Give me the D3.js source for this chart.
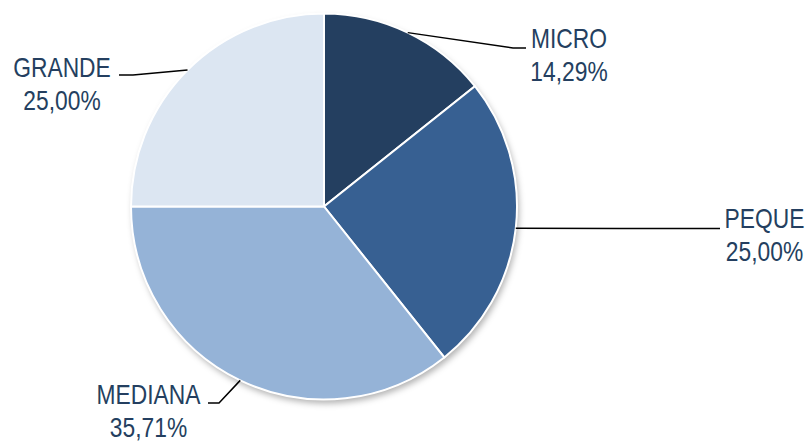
<!DOCTYPE html>
<html>
<head>
<meta charset="utf-8">
<script src="https://cdn.jsdelivr.net/npm/d3@7"></script>
<style>
  body { margin: 0; background: #fff; }
  svg { display: block; }
</style>
</head>
<body>
<div id="chart"></div>
<script>
const categories = ['MICRO', 'PEQUE', 'MEDIANA', 'GRANDE']
const values = [14.29, 25.00, 35.71, 25.00]
const labels = ['14,29%', '25,00%', '35,71%', '25,00%']
const colors = ['#243F60', '#376092', '#95B3D7', '#DCE6F2']

const width = 811
const height = 444
const center = { x: 324, y: 206.5 }
const radius = 193

// label layout: text centre / first baseline, elbow and end of leader line
const labelLayout = {
  MICRO: { tx: 569, ty: 48, elbow: [513, 48], end: [526, 48] },
  PEQUE: { tx: 764.5, ty: 228, elbow: [620, 228.5], end: [720, 228.5] },
  MEDIANA: { tx: 148.5, ty: 404, elbow: [219, 403], end: [208, 403] },
  GRANDE: { tx: 62, ty: 77, elbow: [133, 75], end: [119, 75] }
}

const data = categories.map((c, i) => ({ name: c, value: values[i], label: labels[i], color: colors[i] }))

const svg = d3.select('#chart').append('svg')
  .attr('width', width)
  .attr('height', height)

const defs = svg.append('defs')
const filter = defs.append('filter')
  .attr('id', 'shadow')
  .attr('x', '-10%').attr('y', '-10%')
  .attr('width', '120%').attr('height', '120%')
filter.append('feDropShadow')
  .attr('dx', 2).attr('dy', 4)
  .attr('stdDeviation', 3)
  .attr('flood-color', '#000')
  .attr('flood-opacity', 0.3)

const bounds = svg.append('g')
  .attr('transform', `translate(${center.x}, ${center.y})`)

const pie = d3.pie()
  .sort(null)
  .value(d => d.value)
const arcs = pie(data)

const arc = d3.arc()
  .innerRadius(0)
  .outerRadius(radius)

bounds.append('circle')
  .attr('r', radius)
  .attr('fill', '#fff')
  .attr('filter', 'url(#shadow)')

bounds.selectAll('path.slice')
  .data(arcs)
  .join('path')
  .attr('class', 'slice')
  .attr('d', arc)
  .attr('fill', d => d.data.color)
  .style('stroke', '#fff')
  .style('stroke-width', 2)

// leader lines
const line = d3.line()
svg.selectAll('path.leader')
  .data(arcs)
  .join('path')
  .attr('class', 'leader')
  .attr('d', d => {
    const a = (d.startAngle + d.endAngle) / 2
    const start = [center.x + radius * Math.sin(a), center.y - radius * Math.cos(a)]
    const l = labelLayout[d.data.name]
    return line([start, l.elbow, l.end])
  })
  .attr('fill', 'none')
  .style('stroke', '#000')
  .style('stroke-width', 1.5)

// labels (condensed like Arial Narrow)
const text = svg.selectAll('text.label')
  .data(arcs)
  .join('text')
  .attr('class', 'label')
  .attr('transform', d => `translate(${labelLayout[d.data.name].tx}, ${labelLayout[d.data.name].ty}) scale(0.8, 1)`)
  .attr('text-anchor', 'middle')
  .style('font-family', '"Liberation Sans", Arial, sans-serif')
  .style('font-size', '28.5px')
  .attr('fill', '#243F60')
text.append('tspan')
  .attr('x', 0)
  .text(d => d.data.name)
text.append('tspan')
  .attr('x', 0)
  .attr('dy', 33.5)
  .text(d => d.data.label)
</script>
</body>
</html>
